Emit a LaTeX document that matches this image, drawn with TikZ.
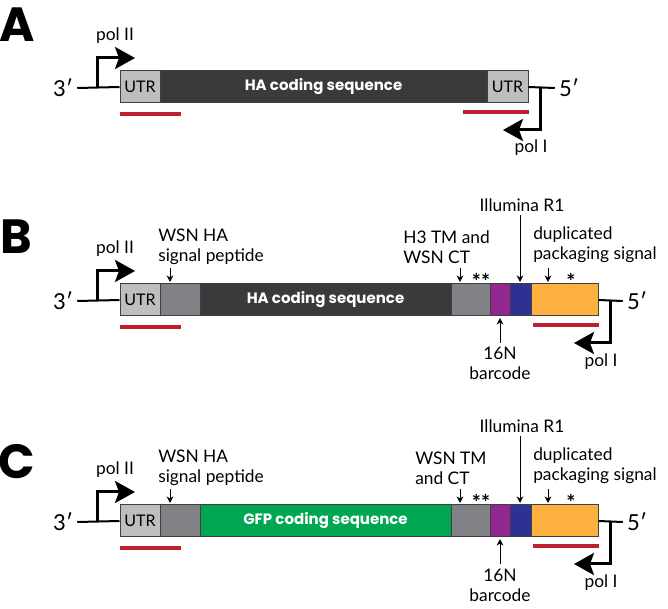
\documentclass[tikz,border=0pt]{standalone}
\usepackage{fontspec}
\setmainfont{Lato}
\newfontfamily\headfont{Poppins}
\usetikzlibrary{arrows.meta}

\definecolor{seqdark}{RGB}{58,58,60}
\definecolor{utrgray}{RGB}{188,190,192}
\definecolor{tmgray}{RGB}{128,130,133}
\definecolor{segline}{RGB}{64,64,65}
\definecolor{bcpurple}{RGB}{146,39,143}
\definecolor{r1blue}{RGB}{46,49,146}
\definecolor{pkorange}{RGB}{251,176,64}
\definecolor{gfpgreen}{RGB}{0,166,81}
\definecolor{packred}{RGB}{190,30,45}

\tikzset{
	seg/.style={draw=segline, line width=0.75pt, minimum height=24pt, inner sep=0pt, font=\fontsize{12}{12}\selectfont},
	coding/.style={seg, text=white, font=\headfont\bfseries\fontsize{11.25}{12}\selectfont},
	lbl/.style={inner sep=0.75pt, align=left, font=\fontsize{13}{15}\selectfont},
	stars/.style={inner sep=0.75pt, font=\bfseries\fontsize{16}{16}\selectfont},
	endlbl/.style={inner sep=3pt, font=\fontsize{16.5}{18}\selectfont},
	panel/.style={inner sep=0pt, font=\headfont\bfseries\fontsize{36}{36}\selectfont},
	promoter/.style={line width=2.25pt, -{Stealth[length=15pt,width=16.5pt,inset=3pt]}},
	backbone/.style={line width=1.5pt},
	packline/.style={draw=packred, line width=3pt},
	pointer/.style={line width=0.75pt, -{Stealth[length=5pt,width=5pt]}}
}

\begin{document}
\begin{tikzpicture}[x=0.75pt,y=0.75pt,yscale=-1,xscale=1]
	\useasboundingbox (0,0) rectangle (668,609);
	
	%%%%% panel A
	% Text Node
	\node[panel] (letA) at (17,25) {A};
	\node[endlbl] (p3A) at (63,88) {3′};
	\node[endlbl] (p5A) at (569,88) {5′};
	%Shape: Rectangle
	\node[seg, fill=utrgray, minimum width=30pt] (utrA) at (140,87) {UTR};
	\node[coding, fill=seqdark, minimum width=245.25pt] (haA) at (323.5,87) {HA coding sequence};
	\node[seg, fill=utrgray, minimum width=30.75pt] (utrRA) at (507.5,87) {UTR};
	%Straight Lines
	\draw[backbone] (p3A.east) -- (utrA.west);
	\draw[backbone] (utrRA.east) -- (p5A.west);
	\draw[packline] ([yshift=8.25pt]utrA.south west) -- ++(61,0);
	\draw[packline] ([yshift=6.75pt]utrRA.south east) -- ++(-66,0);
	%Promoters
	\coordinate (pol2A) at (97,87);
	\coordinate (pol2tipA) at (135,58);
	\draw[promoter] (pol2A) |- (pol2tipA);
	\coordinate (pol1A) at (540,87);
	\coordinate (pol1tipA) at (503,130);
	\draw[promoter] (pol1A) |- (pol1tipA);
	% Text Node
	\node[lbl] (pol2lblA) at (115,36) {pol II};
	\node[lbl] (pol1lblA) at (531,148) {pol I};
	
	%%%%% panel B
	% Text Node
	\node[panel] (letB) at (16,237) {B};
	\node[endlbl] (p3B) at (63,301) {3′};
	\node[endlbl] (p5B) at (637,301) {5′};
	%Shape: Rectangle
	\node[seg, fill=utrgray, minimum width=30pt] (utrB) at (140,300) {UTR};
	\node[seg, fill=tmgray, minimum width=30pt] (spB) at (180,300) {};
	\node[coding, fill=seqdark, minimum width=188.25pt] (haB) at (325.5,300) {HA coding sequence};
	\node[seg, fill=tmgray, minimum width=29.25pt] (tmB) at (470.5,300) {};
	\node[seg, fill=bcpurple, minimum width=15pt] (bcB) at (500,300) {};
	\node[seg, fill=r1blue, minimum width=15.75pt] (r1B) at (520.5,300) {};
	\node[seg, fill=pkorange, minimum width=50.25pt] (pkB) at (564.5,300) {};
	%Straight Lines
	\draw[backbone] (p3B.east) -- (utrB.west);
	\draw[backbone] (pkB.east) -- (p5B.west);
	\draw[packline] ([yshift=8.25pt]utrB.south west) -- ++(61,0);
	\draw[packline] ([yshift=6.75pt]pkB.south east) -- ++(-66,0);
	%Promoters
	\coordinate (pol2B) at (97,300);
	\coordinate (pol2tipB) at (135,271);
	\draw[promoter] (pol2B) |- (pol2tipB);
	\coordinate (pol1B) at (610,300);
	\coordinate (pol1tipB) at (574,343);
	\draw[promoter] (pol1B) |- (pol1tipB);
	% Text Node
	\node[lbl] (pol2lblB) at (115,249) {pol II};
	\node[lbl] (pol1lblB) at (601,362) {pol I};
	\node[lbl, anchor=west] (sptxtB) at (157,247) {WSN HA\\signal peptide};
	\node[lbl, anchor=west] (tmtxtB) at (402,247) {H3 TM and\\WSN CT};
	\node[lbl] (ilB) at (522,205) {Illumina R1};
	\node[lbl, anchor=west] (duptxtB) at (532,245) {duplicated\\packaging signal};
	\node[lbl, align=center] (bctxtB) at (500,363) {16N\\barcode};
	\node[stars] (starsB) at (481,281) {**};
	\node[stars] (starB) at (571,281) {*};
	%Pointers
	\coordinate (spsB) at (170,268); \coordinate (speB) at (170,282);
	\draw[pointer] (spsB) -- (speB);
	\coordinate (tmsB) at (460,268); \coordinate (tmeB) at (460,282);
	\draw[pointer] (tmsB) -- (tmeB);
	\coordinate (ilsB) at (520,215); \coordinate (ileB) at (520,282);
	\draw[pointer] (ilsB) -- (ileB);
	\coordinate (dupsB) at (548,268); \coordinate (dupeB) at (548,282);
	\draw[pointer] (dupsB) -- (dupeB);
	\coordinate (bcsB) at (500,343); \coordinate (bceB) at (500,318);
	\draw[pointer] (bcsB) -- (bceB);
	
	%%%%% panel C
	% Text Node
	\node[panel] (letC) at (17,462) {C};
	\node[endlbl] (p3C) at (63,522) {3′};
	\node[endlbl] (p5C) at (637,522) {5′};
	%Shape: Rectangle
	\node[seg, fill=utrgray, minimum width=30pt] (utrC) at (140,521) {UTR};
	\node[seg, fill=tmgray, minimum width=30pt] (spC) at (180,521) {};
	\node[coding, fill=gfpgreen, minimum width=188.25pt] (gfpC) at (325.5,521) {GFP coding sequence};
	\node[seg, fill=tmgray, minimum width=29.25pt] (tmC) at (470.5,521) {};
	\node[seg, fill=bcpurple, minimum width=15pt] (bcC) at (500,521) {};
	\node[seg, fill=r1blue, minimum width=15.75pt] (r1C) at (520.5,521) {};
	\node[seg, fill=pkorange, minimum width=50.25pt] (pkC) at (564.5,521) {};
	%Straight Lines
	\draw[backbone] (p3C.east) -- (utrC.west);
	\draw[backbone] (pkC.east) -- (p5C.west);
	\draw[packline] ([yshift=8.25pt]utrC.south west) -- ++(61,0);
	\draw[packline] ([yshift=6.75pt]pkC.south east) -- ++(-66,0);
	%Promoters
	\coordinate (pol2C) at (97,521);
	\coordinate (pol2tipC) at (135,492);
	\draw[promoter] (pol2C) |- (pol2tipC);
	\coordinate (pol1C) at (610,521);
	\coordinate (pol1tipC) at (574,564);
	\draw[promoter] (pol1C) |- (pol1tipC);
	% Text Node
	\node[lbl] (pol2lblC) at (115,470) {pol II};
	\node[lbl] (pol1lblC) at (601,583) {pol I};
	\node[lbl, anchor=west] (sptxtC) at (157,468) {WSN HA\\signal peptide};
	\node[lbl, anchor=west] (tmtxtC) at (414,468) {WSN TM\\and CT};
	\node[lbl] (ilC) at (522,426) {Illumina R1};
	\node[lbl, anchor=west] (duptxtC) at (532,466) {duplicated\\packaging signal};
	\node[lbl, align=center] (bctxtC) at (500,585) {16N\\barcode};
	\node[stars] (starsC) at (481,502) {**};
	\node[stars] (starC) at (571,502) {*};
	%Pointers
	\coordinate (spsC) at (170,489); \coordinate (speC) at (170,503);
	\draw[pointer] (spsC) -- (speC);
	\coordinate (tmsC) at (460,489); \coordinate (tmeC) at (460,503);
	\draw[pointer] (tmsC) -- (tmeC);
	\coordinate (ilsC) at (520,436); \coordinate (ileC) at (520,503);
	\draw[pointer] (ilsC) -- (ileC);
	\coordinate (dupsC) at (548,489); \coordinate (dupeC) at (548,503);
	\draw[pointer] (dupsC) -- (dupeC);
	\coordinate (bcsC) at (500,564); \coordinate (bceC) at (500,539);
	\draw[pointer] (bcsC) -- (bceC);
\end{tikzpicture}
\end{document}
